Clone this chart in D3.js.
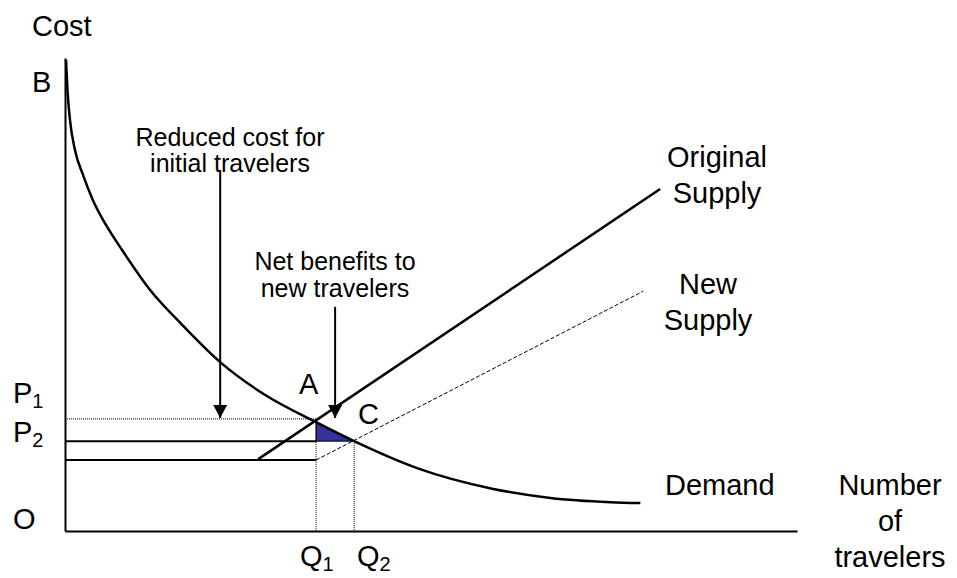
<!DOCTYPE html>
<html>
<head>
<meta charset="utf-8">
<script src="https://cdn.jsdelivr.net/npm/d3@7"></script>
<style>
body { margin: 0; background: #fff; }
text { font-family: "Liberation Sans", Arial, sans-serif; fill: #000; }
</style>
</head>
<body>
<svg width="957" height="578"></svg>
<script>
// demand curve (travelers, cost)
var demandX = [0.14, 0.34, 0.68, 1.37, 2.46, 3.8, 5.6, 7.8, 11.6, 16.0, 21.2, 27.3, 34.3, 39.5, 48.1, 58.5, 66.3, 74.5, 78.6]
var demandY = [99.6, 93.2, 86.9, 80.5, 75.3, 70.0, 64.7, 59.4, 51.0, 43.6, 35.7, 28.8, 23.0, 19.0, 13.3, 8.9, 7.0, 6.1, 5.9]
var originalSupplyX = [26.4, 81.3]
var originalSupplyY = [15.2, 72.3]
var newSupplyX = [34.3, 79.0]
var newSupplyY = [15.0, 50.7]
var priceLevels = [23.7, 19.0, 15.0]   // P1, P2, base of new supply
var quantities = [34.3, 39.5]          // Q1, Q2

var svg = d3.select('svg')

var xScale = d3.scaleLinear().domain([0, 100]).range([65, 797])
var yScale = d3.scaleLinear().domain([0, 100]).range([531, 58])

// arrowhead
svg.append('defs').append('marker')
    .attr('id', 'arrow')
    .attr('markerUnits', 'userSpaceOnUse')
    .attr('markerWidth', 14)
    .attr('markerHeight', 14)
    .attr('viewBox', '0 0 14 14')
    .attr('refX', 13)
    .attr('refY', 7)
    .attr('orient', 'auto')
  .append('path')
    .attr('d', 'M0,0 L13,7 L0,14 Z')
    .attr('fill', '#000')

// axes without ticks
svg.append('g')
    .attr('transform', 'translate(0,' + yScale(0) + ')')
    .call(d3.axisBottom(xScale).tickValues([]).tickSizeOuter(0))
    .select('.domain').attr('stroke-width', 2)
svg.append('g')
    .attr('transform', 'translate(' + xScale(0) + ',0)')
    .call(d3.axisLeft(yScale).tickValues([]).tickSizeOuter(0))
    .select('.domain').attr('stroke-width', 2)

var line = d3.line()
    .x(function (d) { return xScale(d[0]) })
    .y(function (d) { return yScale(d[1]) })

var demand = d3.zip(demandX, demandY)
var q1 = quantities[0], q2 = quantities[1]
var p1 = priceLevels[0], p2 = priceLevels[1], p3 = priceLevels[2]

// shaded triangle of net benefits
var tri = [[q1, p2]].concat(demand.filter(function (d) { return d[0] >= q1 && d[0] <= q2 }))
svg.append('path')
    .attr('d', line(tri) + 'Z')
    .attr('fill', '#333399')
    .attr('stroke', '#000')
    .attr('stroke-width', 1)

// dotted guides
svg.append('path')
    .attr('d', line([[0, p1], [q1, p1], [q1, 0]]))
    .attr('fill', 'none').attr('stroke', '#000').attr('stroke-width', 1)
    .attr('stroke-dasharray', '1,1')
svg.append('path')
    .attr('d', line([[q2, p2], [q2, 0]]))
    .attr('fill', 'none').attr('stroke', '#000').attr('stroke-width', 1)
    .attr('stroke-dasharray', '1,1')

// solid price lines
svg.append('path')
    .attr('d', line([[0, p2], [q1, p2]]))
    .attr('fill', 'none').attr('stroke', '#000').attr('stroke-width', 2)
svg.append('path')
    .attr('d', line([[0, p3], [q1, p3]]))
    .attr('fill', 'none').attr('stroke', '#000').attr('stroke-width', 2)

// supply lines
svg.append('path')
    .attr('d', line(d3.zip(newSupplyX, newSupplyY)))
    .attr('fill', 'none').attr('stroke', '#000').attr('stroke-width', 1)
    .attr('stroke-dasharray', '4,2')
svg.append('path')
    .attr('d', line(d3.zip(originalSupplyX, originalSupplyY)))
    .attr('fill', 'none').attr('stroke', '#000').attr('stroke-width', 2.5)

// demand curve
svg.append('path')
    .attr('d', d3.line()
        .x(function (d) { return xScale(d[0]) })
        .y(function (d) { return yScale(d[1]) })
        .curve(d3.curveMonotoneX)(demand))
    .attr('fill', 'none').attr('stroke', '#000').attr('stroke-width', 2.5)

// annotation arrows
svg.append('line')
    .attr('x1', xScale(21.2)).attr('y1', yScale(76.3))
    .attr('x2', xScale(21.2)).attr('y2', yScale(p1) - 1)
    .attr('stroke', '#000').attr('stroke-width', 2)
    .attr('marker-end', 'url(#arrow)')
svg.append('line')
    .attr('x1', xScale(36.9)).attr('y1', yScale(47.4))
    .attr('x2', xScale(36.9)).attr('y2', yScale(23.9))
    .attr('stroke', '#000').attr('stroke-width', 2)
    .attr('marker-end', 'url(#arrow)')

function label(x, y, txt, size, anchor) {
    return svg.append('text')
        .attr('x', x).attr('y', y)
        .attr('font-size', size)
        .attr('text-anchor', anchor || 'start')
        .text(txt)
}
function subLabel(x, y, main, sub) {
    var t = svg.append('text').attr('x', x).attr('y', y).attr('font-size', 29)
    t.append('tspan').text(main)
    t.append('tspan').attr('font-size', 20).attr('dy', 5).text(sub)
}

label(32, 36, 'Cost', 29)
label(32, 92, 'B', 29)
label(13, 529, 'O', 29)
subLabel(13, 403, 'P', '1')
subLabel(13, 442, 'P', '2')
subLabel(300, 566, 'Q', '1')
subLabel(357, 566, 'Q', '2')
label(299, 394, 'A', 29)
label(358, 424, 'C', 29)

label(230, 146, 'Reduced cost for', 25, 'middle')
label(230, 172, 'initial travelers', 25, 'middle')
label(335, 270, 'Net benefits to', 25, 'middle')
label(335, 297, 'new travelers', 25, 'middle')

label(717, 167, 'Original', 29, 'middle')
label(717, 203, 'Supply', 29, 'middle')
label(708, 294, 'New', 29, 'middle')
label(708, 330, 'Supply', 29, 'middle')
label(665, 495, 'Demand', 29)
label(890, 495, 'Number', 29, 'middle')
label(890, 531, 'of', 29, 'middle')
label(890, 567, 'travelers', 29, 'middle')
</script>
</body>
</html>
